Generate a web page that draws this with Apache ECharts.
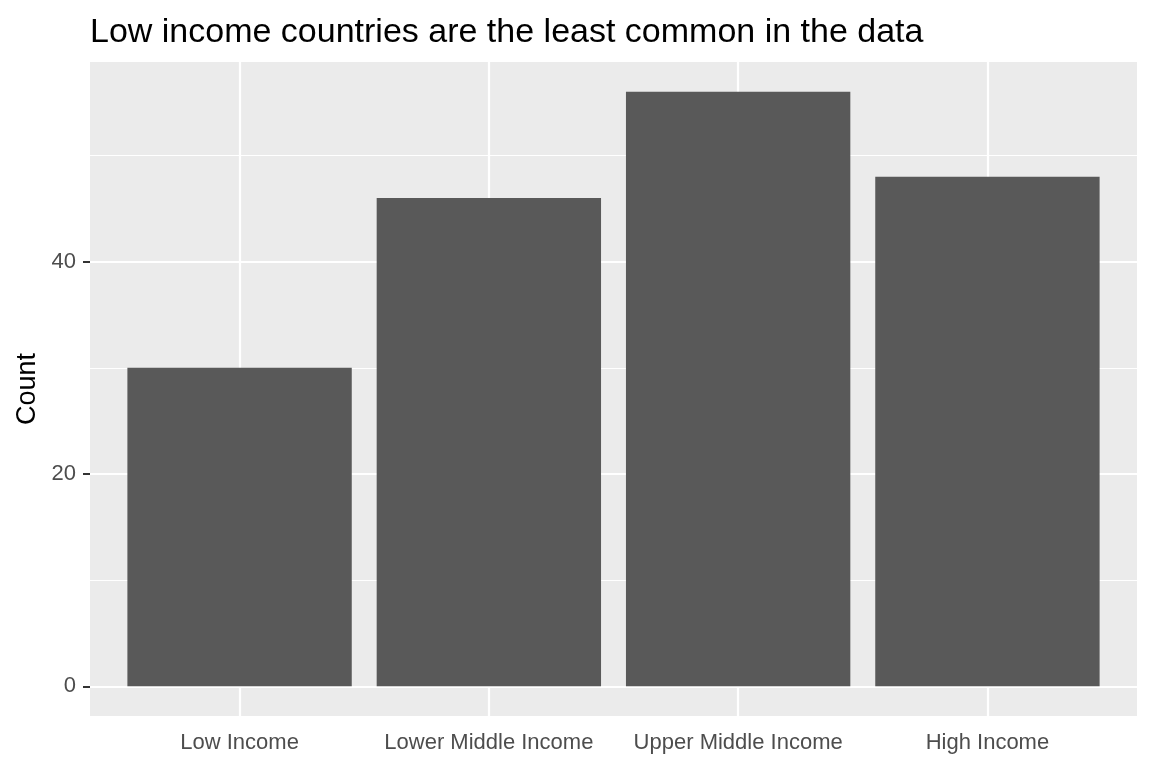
<!DOCTYPE html>
<html>
<head>
<meta charset="utf-8">
<script src="https://cdn.jsdelivr.net/npm/echarts@6/dist/echarts.min.js"></script>
<style>html,body{margin:0;padding:0;background:#fff}#c{width:1152px;height:768px}</style>
</head>
<body>
<div id="c"></div>
<script>
const categories = ['Low Income', 'Lower Middle Income', 'Upper Middle Income', 'High Income'];
const counts = [30, 46, 56, 48];
const positions = [1, 2, 3, 4];
const majorTicks = [0, 20, 40];
const minorTicks = [10, 30, 50];
const yMin = -2.8, yMax = 58.8;
const xMin = 0.4, xMax = 4.6;

const chart = echarts.init(document.getElementById('c'));
const gridLines = [];
majorTicks.forEach(v => gridLines.push({ yAxis: v, lineStyle: { color: '#fff', width: 2.2, type: 'solid' } }));
minorTicks.forEach(v => gridLines.push({ yAxis: v, lineStyle: { color: '#fff', width: 1.1, type: 'solid' } }));
positions.forEach(p => gridLines.push({ xAxis: p, lineStyle: { color: '#fff', width: 2.2, type: 'solid' } }));

chart.setOption({
  animation: false,
  textStyle: { fontFamily: 'Liberation Sans, Arial, sans-serif' },
  title: {
    text: 'Low income countries are the least common in the data',
    left: 85, top: 11,
    textStyle: { fontSize: 34, fontWeight: 'normal', color: '#000', fontFamily: 'Liberation Sans, Arial, sans-serif' }
  },
  grid: { left: 90, right: 15, top: 62, bottom: 52, show: true, backgroundColor: '#EBEBEB', borderWidth: 0 },
  xAxis: {
    type: 'value', min: xMin, max: xMax,
    axisLine: { show: false },
    axisTick: { show: true, length: 7, customValues: positions, lineStyle: { color: '#333', width: 2 } },
    axisLabel: { color: '#4D4D4D', fontSize: 22, margin: 16, customValues: positions,
      formatter: v => categories[Math.round(v) - 1] || '' },
    splitLine: { show: false }
  },
  yAxis: {
    type: 'value', min: yMin, max: yMax,
    name: 'Count', nameLocation: 'middle', nameGap: 46, nameRotate: 90,
    nameTextStyle: { fontSize: 27, color: '#000' },
    axisLine: { show: false },
    axisTick: { show: true, length: 7, customValues: majorTicks, lineStyle: { color: '#333', width: 2 } },
    axisLabel: { color: '#4D4D4D', fontSize: 22, margin: 14, customValues: majorTicks },
    splitLine: { show: false }
  },
  series: [{
    type: 'bar', data: positions.map((p, i) => [p, counts[i]]), barWidth: '90%', z: 3,
    itemStyle: { color: '#595959' },
    markLine: { silent: true, symbol: 'none', z: 1, label: { show: false }, data: gridLines, animation: false }
  }]
});
</script>
</body>
</html>
